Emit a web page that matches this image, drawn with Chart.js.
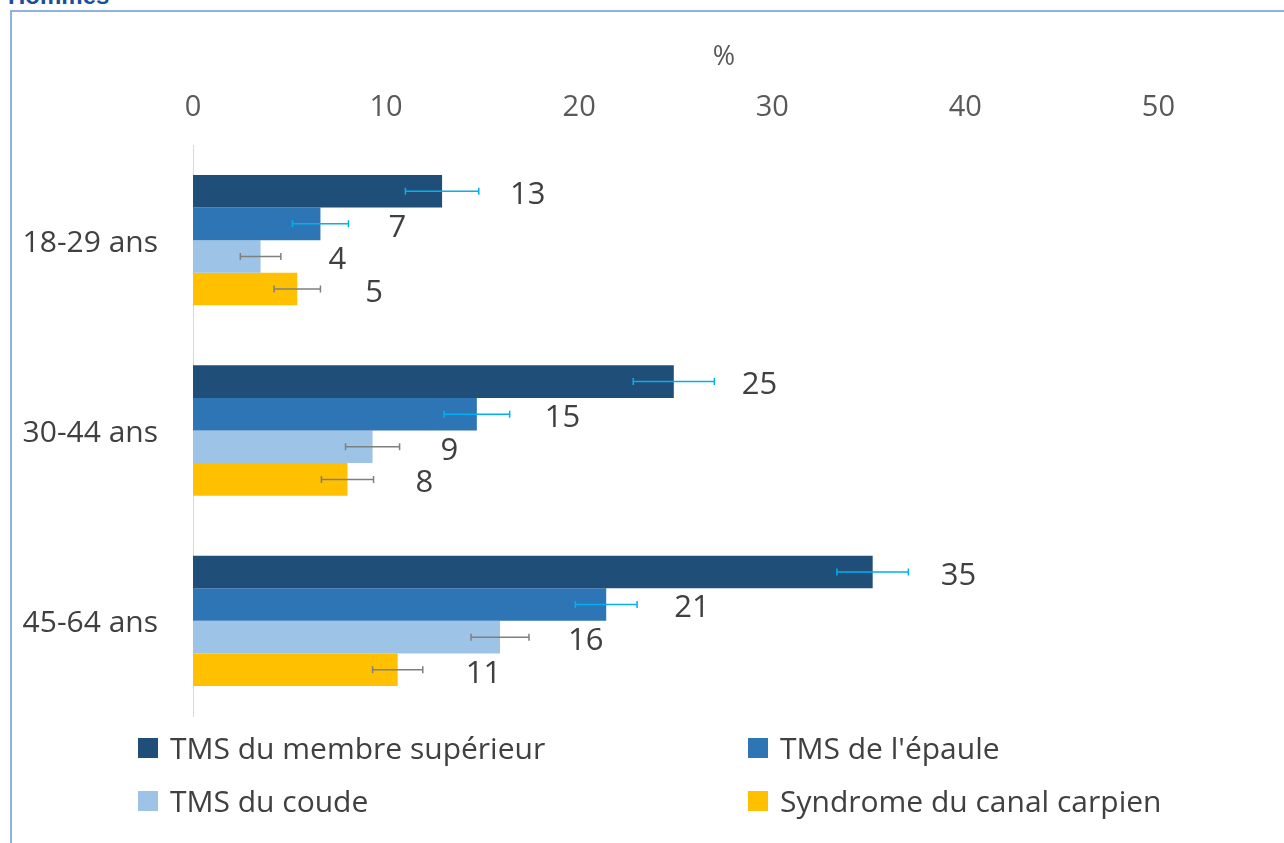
<!DOCTYPE html>
<html>
<head>
<meta charset="utf-8">
<script src="https://cdn.jsdelivr.net/npm/chart.js@4"></script>
<style>
  body { margin: 0; background: #fff; overflow: hidden; }
  #wrap { position: relative; width: 1284px; height: 843px; }
  #frame { position: absolute; left: 10px; top: 10px; width: 1300px; height: 900px;
           border-left: 2px solid #8DB3E2; border-top: 2px solid #8DB3E2; }
  #title { position: absolute; left: 8px; top: -18px; font: bold 24px "Liberation Sans", Arial, sans-serif; color: #1B4F9C; }
  canvas { position: absolute; left: 0; top: 0; }
  #legend { position: absolute; left: 0; top: 0; font-family: "Open Sans", sans-serif; font-size: 30px; color: #404040; }
  .item { position: absolute; white-space: nowrap; display: flex; align-items: center; }
  .box { width: 20px; height: 20px; margin-right: 12px; }
</style>
</head>
<body>
<div id="wrap">
  <div id="frame"></div>
  <div id="title">Hommes</div>
  <canvas id="tmsChart" width="1284" height="843"></canvas>
  <div id="legend"></div>
</div>
<script>
const ageGroups = ['18-29 ans', '30-44 ans', '45-64 ans'];
const seriesNames = ['TMS du membre supérieur', "TMS de l'épaule", 'TMS du coude', 'Syndrome du canal carpien'];
const membreSup = [12.9, 24.9, 35.2];
const epaule = [6.6, 14.7, 21.4];
const coude = [3.5, 9.3, 15.9];
const canal = [5.4, 8.0, 10.6];
const membreSupErr = [1.9, 2.1, 1.85];
const epauleErr = [1.45, 1.7, 1.6];
const coudeErr = [1.05, 1.4, 1.5];
const canalErr = [1.2, 1.35, 1.3];
const xTicks = [0, 10, 20, 30, 40, 50];

const colors = ['#1F4E79', '#2E75B6', '#9DC3E6', '#FFC000'];
const errColors = ['#00B0F0', '#00B0F0', '#7F7F7F', '#7F7F7F'];
const values = [membreSup, epaule, coude, canal];
const errors = [membreSupErr, epauleErr, coudeErr, canalErr];

// error bars + value labels
const extras = {
  id: 'extras',
  afterDatasetsDraw(chart) {
    const ctx = chart.ctx;
    const xs = chart.scales.x;
    chart.data.datasets.forEach((ds, di) => {
      const meta = chart.getDatasetMeta(di);
      meta.data.forEach((bar, i) => {
        const v = ds.data[i];
        const e = errors[di][i];
        const x1 = xs.getPixelForValue(v - e);
        const x2 = xs.getPixelForValue(v + e);
        const y = bar.y;
        ctx.save();
        ctx.strokeStyle = errColors[di];
        ctx.lineWidth = 1.5;
        ctx.beginPath();
        ctx.moveTo(x1, y); ctx.lineTo(x2, y);
        ctx.moveTo(x1, y - 3.5); ctx.lineTo(x1, y + 3.5);
        ctx.moveTo(x2, y - 3.5); ctx.lineTo(x2, y + 3.5);
        ctx.stroke();
        ctx.fillStyle = '#404040';
        ctx.font = '31px "Open Sans"';
        ctx.textAlign = 'left';
        ctx.textBaseline = 'middle';
        ctx.fillText(Math.round(v), bar.x + 68, y + 4);
        ctx.restore();
      });
    });
  }
};

const chart = new Chart(document.getElementById('tmsChart'), {
  type: 'bar',
  data: {
    labels: ageGroups,
    datasets: seriesNames.map((name, i) => ({
      label: name,
      data: values[i],
      backgroundColor: colors[i],
      borderWidth: 0,
      categoryPercentage: 0.685,
      barPercentage: 1
    }))
  },
  options: {
    indexAxis: 'y',
    responsive: false,
    animation: false,
    layout: { padding: { left: 0, right: 29, top: 0, bottom: 127 } },
    plugins: {
      legend: { display: false },
      tooltip: { enabled: false }
    },
    scales: {
      x: {
        position: 'top',
        min: 0,
        max: 55,
        afterBuildTicks: (scale) => { scale.ticks = xTicks.map(v => ({ value: v })); },
        afterFit: (scale) => { scale.height = 145; },
        grid: { display: false, drawTicks: false },
        border: { display: false },
        ticks: { color: '#595959', font: { family: 'Open Sans', size: 29 }, padding: 20, maxRotation: 0 },
        title: { display: true, text: '%', color: '#595959', font: { family: 'Open Sans', size: 27 }, padding: { top: 41 } }
      },
      y: {
        afterFit: (scale) => { scale.width = 193; },
        grid: { display: false, drawTicks: false },
        border: { display: true, color: '#D9D9D9', width: 1 },
        ticks: { color: '#404040', font: { family: 'Open Sans', size: 30 }, padding: 35, labelOffset: 3 }
      }
    }
  },
  plugins: [extras]
});

// html legend built from the chart datasets
const legendPos = [[138, 748], [748, 748], [138, 801], [748, 801]];
const legend = document.getElementById('legend');
chart.data.datasets.forEach((ds, i) => {
  const el = document.createElement('div');
  el.className = 'item';
  el.style.left = legendPos[i][0] + 'px';
  el.style.top = (legendPos[i][1] - 21) + 'px';
  el.innerHTML = '<span class="box" style="background:' + ds.backgroundColor + '"></span>' + ds.label;
  legend.appendChild(el);
});
</script>
</body>
</html>
